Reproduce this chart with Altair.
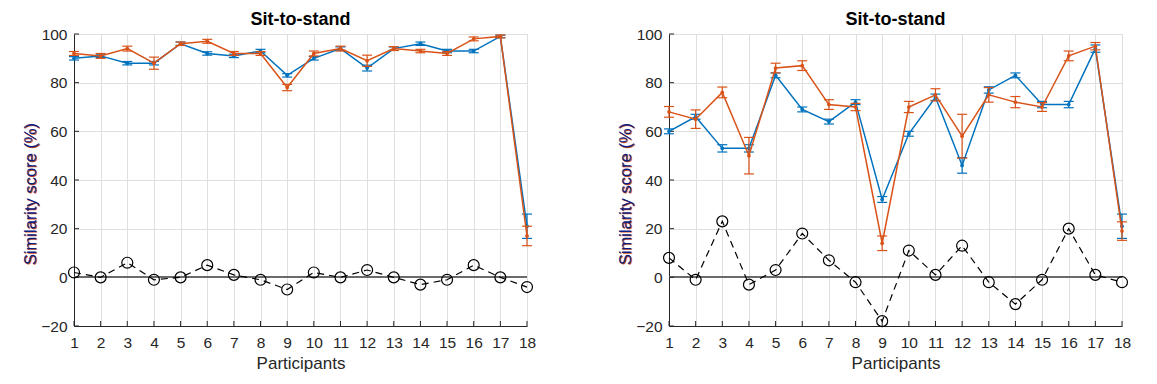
import altair as alt
import pandas as pd

participants = list(range(1, 19))
y_ticks = [-20, 0, 20, 40, 60, 80, 100]

left_blue = [90, 91, 88, 88, 96, 92, 91, 93, 83, 90, 94, 86, 94, 96, 93, 93, 99, 21]
left_blue_err = [0.7, 0.7, 0.7, 0.7, 0.7, 0.7, 0.7, 0.7, 0.7, 0.7, 0.7, 1.2, 0.7, 0.7, 0.7, 0.7, 0.5, 5]
left_orange = [92, 91, 94, 88, 96, 97, 92, 92, 78, 92, 94, 89, 94, 93, 92, 98, 99, 17]
left_orange_err = [0.8, 1, 1, 2.5, 0.7, 0.8, 0.8, 0.8, 1.3, 1, 1, 2.3, 0.8, 0.7, 0.8, 0.8, 0.6, 4]
left_diff = [2, 0, 6, -1, 0, 5, 1, -1, -5, 2, 0, 3, 0, -3, -1, 5, 0, -4]

right_blue = [60, 66, 53, 53, 83, 69, 64, 72, 32, 59, 74, 46, 77, 83, 71, 71, 94, 21]
right_blue_err = [1, 1, 1.5, 1.5, 1, 1, 1, 1, 1.2, 1, 1.3, 3.2, 1.3, 1, 1.3, 1.3, 1.5, 5]
right_orange = [68, 65, 76, 50, 86, 87, 71, 70, 14, 70, 75, 58, 75, 72, 70, 91, 95, 19]
right_orange_err = [2.2, 3.8, 2.2, 7.5, 2, 2, 2, 1.5, 3, 2.3, 2.5, 9, 3, 2.3, 1.8, 2, 1.5, 3.8]
right_diff = [8, -1, 23, -3, 3, 18, 7, -2, -18, 11, 1, 13, -2, -11, -1, 20, 1, -2]

title_text = "Sit-to-stand"
x_title = "Participants"
y_title = "Similarity score (%)"

BLUE = "#0072BD"
ORANGE = "#D95319"
DARK = "#262626"
GRID = "#dfdfdf"
NAVY = "#0a2080"
FONT = "Liberation Sans"
W, H = 453, 292

XS = alt.Scale(domain=[1, 18], nice=False, zero=False)
YS = alt.Scale(domain=[-20, 100], nice=False, zero=False)
X_AXIS = alt.Axis(values=participants, format="d", grid=True, gridColor=GRID,
                  tickSize=0, labelFontSize=15.5, labelColor=DARK, labelFont=FONT,
                  labelPadding=9, labelOverlap=False, labelSeparation=0,
                  domainColor=DARK, title=x_title, titleFont=FONT,
                  titleFontSize=17, titleFontWeight="normal", titleColor=DARK,
                  titlePadding=5, labelFlush=False)
Y_AXIS = alt.Axis(values=y_ticks, grid=True, gridColor=GRID, tickSize=0,
                  labelFontSize=15.5, labelColor=DARK, labelFont=FONT, labelPadding=7,
                  labelOverlap=False, domainColor=DARK, title=None)


def X(field):
    return alt.X(field, scale=XS, axis=X_AXIS)


def Y(field):
    return alt.Y(field, scale=YS, axis=Y_AXIS)


def series_layers(mean, err, color):
    df = pd.DataFrame({"participant": participants, "mean": mean,
                       "lo": [m - e for m, e in zip(mean, err)],
                       "hi": [m + e for m, e in zip(mean, err)]})
    base = alt.Chart(df)
    line = base.mark_line(color=color, strokeWidth=1.5).encode(
        x=X("participant:Q"), y=Y("mean:Q"))
    pts = base.mark_point(color=color, filled=True, size=14, opacity=1).encode(
        x=X("participant:Q"), y=Y("mean:Q"))
    bar = base.mark_rule(color=color, strokeWidth=1.2).encode(
        x=X("participant:Q"), y=Y("lo:Q"), y2="hi:Q")
    cap_lo = base.mark_rule(color=color, strokeWidth=1.2, xOffset=-5, x2Offset=5).encode(
        x=X("participant:Q"), x2="participant:Q", y=Y("lo:Q"))
    cap_hi = base.mark_rule(color=color, strokeWidth=1.2, xOffset=-5, x2Offset=5).encode(
        x=X("participant:Q"), x2="participant:Q", y=Y("hi:Q"))
    return [bar, cap_lo, cap_hi, line, pts]


def panel(blue, blue_err, orange, orange_err, diff):
    grid_df = pd.DataFrame({"participant": participants, "zero": [0] * 18,
                            "bottom": [-20] * 18})
    frame = alt.Chart(grid_df).mark_point(opacity=0).encode(
        x=X("participant:Q"), y=Y("zero:Q"))

    zero = alt.Chart(grid_df).mark_rule(color="#6b6b6b", strokeWidth=1.5).encode(
        x=alt.value(0), x2=alt.value(W), y=Y("zero:Q"))

    xt = alt.Chart(grid_df).mark_rule(color=DARK, strokeWidth=1, y2Offset=-5).encode(
        x=X("participant:Q"), y=Y("bottom:Q"), y2="bottom:Q")
    yt_df = pd.DataFrame({"v": y_ticks, "left": [1] * len(y_ticks)})
    yt = alt.Chart(yt_df).mark_rule(color=DARK, strokeWidth=1, x2Offset=5).encode(
        y=Y("v:Q"), x=X("left:Q"), x2="left:Q")

    ddf = pd.DataFrame({"participant": participants, "diff": diff})
    dline = alt.Chart(ddf).mark_line(color="black", strokeWidth=1.2, strokeDash=[7, 5]).encode(
        x=X("participant:Q"), y=Y("diff:Q"))
    dpts = alt.Chart(ddf).mark_point(shape="circle", size=120, filled=False,
                                     color="black", strokeWidth=1.2, opacity=1).encode(
        x=X("participant:Q"), y=Y("diff:Q"))

    lab_df = pd.DataFrame({"t": [y_title]})
    lab_o = alt.Chart(lab_df).mark_text(angle=270, font=FONT, fontSize=16.5, color=ORANGE,
                                        align="center", baseline="alphabetic").encode(
        text="t:N", x=alt.value(-37.4), y=alt.value(H / 2 + 14.6))
    lab_b = alt.Chart(lab_df).mark_text(angle=270, font=FONT, fontSize=16.5, color=NAVY,
                                        align="center", baseline="alphabetic").encode(
        text="t:N", x=alt.value(-38), y=alt.value(H / 2 + 14))

    layers = [frame, zero, xt, yt]
    layers += series_layers(blue, blue_err, BLUE)
    layers += series_layers(orange, orange_err, ORANGE)
    layers += [dline, dpts, lab_o, lab_b]
    return alt.layer(*layers).properties(
        width=W, height=H,
        title=alt.TitleParams(title_text, font=FONT, fontSize=18, fontWeight="bold",
                              color="black", offset=-2, anchor="middle"))


left = panel(left_blue, left_blue_err, left_orange, left_orange_err, left_diff)
right = panel(right_blue, right_blue_err, right_orange, right_orange_err, right_diff)

chart = alt.hconcat(left, right, spacing=142, bounds="flush").properties(
    padding={"left": 14, "top": 2, "right": 5, "bottom": 5}
).configure_view(stroke=None).configure(background="white")

chart.save("out.html", embed_options={"renderer": "svg", "actions": False})
